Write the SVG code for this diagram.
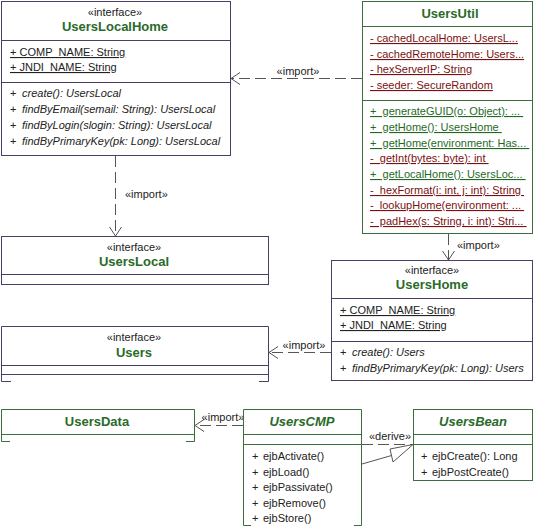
<svg xmlns="http://www.w3.org/2000/svg" width="534" height="527" viewBox="0 0 534 527">
<defs>
<marker id="open" markerUnits="userSpaceOnUse" markerWidth="20" markerHeight="20" viewBox="-12 -10 14 20" refX="0" refY="0" orient="auto">
<path d="M-9,-6 L0,0 L-9,6" fill="none" stroke="#555" stroke-width="1"/>
</marker>
<style>
.bp{fill:#fff;stroke:#4a3d66;stroke-width:1}
.bg{fill:#fff;stroke:#3c6e3c;stroke-width:1}
.lp{stroke:#4a3d66;stroke-width:1;fill:none}
.lg{stroke:#3c6e3c;stroke-width:1;fill:none}
text{font-family:"Liberation Sans",Arial,sans-serif;font-size:11px;fill:#222}
.st{text-anchor:middle}
.nm{font-size:13px;font-weight:bold;fill:#2a6a2a;text-anchor:middle}
.ab{font-style:italic}
.u{text-decoration:underline}
.r{fill:#7a1010}
.g{fill:#1f6a1f}
.pre{white-space:pre}
.c{stroke:#555;stroke-width:1;fill:none;stroke-dasharray:11,5}
.cs{stroke:#555;stroke-width:1;fill:none}
</style>
</defs>

<g id="connectors">
<line class="c" x1="362" y1="78.5" x2="231" y2="78.5" marker-end="url(#open)"/>
<text class="st" x="298" y="75">«import»</text>
<line class="c" x1="115.5" y1="156" x2="115.5" y2="236" marker-end="url(#open)"/>
<text x="125" y="198">«import»</text>
<line class="c" x1="448.5" y1="234" x2="448.5" y2="260" marker-end="url(#open)"/>
<text x="457" y="249">«import»</text>
<line class="c" x1="331" y1="352.5" x2="269" y2="352.5" marker-end="url(#open)"/>
<text class="st" x="304" y="349">«import»</text>
<line class="c" x1="243" y1="425.5" x2="195" y2="425.5" marker-end="url(#open)"/>
<text class="st" x="223" y="421">«import»</text>
<line class="c" x1="362" y1="444.5" x2="413" y2="444.5"/>
<text class="st" x="390" y="440">«derive»</text>
<line class="cs" x1="362" y1="464" x2="391.5" y2="455.5"/>
<path class="cs" d="M390,449 L413,444.5 L393,462 Z" fill="#fff"/>
</g>

<g id="UsersLocalHome">
<rect class="bp" x="1.5" y="1.5" width="229" height="154"/>
<line class="lp" x1="1.5" y1="40.5" x2="230.5" y2="40.5"/>
<line class="lp" x1="1.5" y1="82.5" x2="230.5" y2="82.5"/>
<text class="st" x="115" y="16">«interface»</text>
<text class="nm" x="115" y="31">UsersLocalHome</text>
<text class="u" x="10" y="56">+ COMP_NAME: String</text>
<text class="u" x="10" y="71">+ JNDI_NAME: String</text>
<text x="10" y="97">+</text><text class="ab" x="22" y="97">create(): UsersLocal</text>
<text x="10" y="113">+</text><text class="ab" x="22" y="113">findByEmail(semail: String): UsersLocal</text>
<text x="10" y="129">+</text><text class="ab" x="22" y="129">findByLogin(slogin: String): UsersLocal</text>
<text x="10" y="145">+</text><text class="ab" x="22" y="145">findByPrimaryKey(pk: Long): UsersLocal</text>
</g>

<g id="UsersUtil">
<rect class="bg" x="362.5" y="1.5" width="170" height="232"/>
<line class="lg" x1="362.5" y1="26.5" x2="532.5" y2="26.5"/>
<line class="lg" x1="362.5" y1="100.5" x2="532.5" y2="100.5"/>
<text class="nm" x="450" y="18">UsersUtil</text>
<text class="u r" x="370" y="42">- cachedLocalHome: UsersL... </text>
<text class="u r" x="370" y="58">- cachedRemoteHome: Users... </text>
<text class="u r" x="370" y="73">- hexServerIP: String </text>
<text class="u r" x="370" y="89">- seeder: SecureRandom </text>
<text class="u g pre" x="370" y="115">+  generateGUID(o: Object): ... </text>
<text class="u g pre" x="370" y="131">+  getHome(): UsersHome </text>
<text class="u g pre" x="370" y="147">+  getHome(environment: Has... </text>
<text class="u r pre" x="370" y="162">-  getInt(bytes: byte): int </text>
<text class="u g pre" x="370" y="178">+  getLocalHome(): UsersLoc... </text>
<text class="u r pre" x="370" y="194">-  hexFormat(i: int, j: int): String </text>
<text class="u r pre" x="370" y="209">-  lookupHome(environment: ... </text>
<text class="u r pre" x="370" y="225">-  padHex(s: String, i: int): Stri... </text>
</g>

<g id="UsersLocal">
<rect class="bp" x="1.5" y="236.5" width="267" height="48"/>
<line class="lp" x1="1.5" y1="274.5" x2="268.5" y2="274.5"/>
<text class="st" x="134" y="251">«interface»</text>
<text class="nm" x="134" y="266">UsersLocal</text>
</g>

<g id="UsersHome">
<rect class="bp" x="331.5" y="260.5" width="201" height="120"/>
<line class="lp" x1="331.5" y1="298.5" x2="532.5" y2="298.5"/>
<line class="lp" x1="331.5" y1="341.5" x2="532.5" y2="341.5"/>
<text class="st" x="432" y="274">«interface»</text>
<text class="nm" x="432" y="289">UsersHome</text>
<text class="u" x="340" y="314">+ COMP_NAME: String</text>
<text class="u" x="340" y="329">+ JNDI_NAME: String</text>
<text x="340" y="356">+</text><text class="ab" x="352" y="356">create(): Users</text>
<text x="340" y="372">+</text><text class="ab" x="352" y="372">findByPrimaryKey(pk: Long): Users</text>
</g>

<g id="Users">
<path class="lp" d="M1.5,381.5 V326.5 H268.5 V381.5"/>
<line class="lp" x1="1.5" y1="365.5" x2="268.5" y2="365.5"/>
<line class="lp" x1="1.5" y1="374.5" x2="268.5" y2="374.5"/>
<line class="lp" x1="1.5" y1="381.5" x2="11" y2="381.5"/>
<line class="lp" x1="259" y1="381.5" x2="268.5" y2="381.5"/>
<text class="st" x="134" y="341">«interface»</text>
<text class="nm" x="134" y="357">Users</text>
</g>

<g id="UsersData">
<path class="lg" d="M1.5,441.5 V409.5 H194.5 V441.5"/>
<line class="lg" x1="1.5" y1="434.5" x2="194.5" y2="434.5"/>
<line class="lg" x1="1.5" y1="441.5" x2="10" y2="441.5"/>
<line class="lg" x1="186" y1="441.5" x2="194.5" y2="441.5"/>
<text class="nm" x="97" y="426">UsersData</text>
</g>

<g id="UsersCMP">
<path class="lg" d="M243.5,525.5 V409.5 H361.5 V525.5"/>
<line class="lg" x1="243.5" y1="434.5" x2="361.5" y2="434.5"/>
<line class="lg" x1="243.5" y1="444.5" x2="361.5" y2="444.5"/>
<line class="lg" x1="243.5" y1="525.5" x2="251" y2="525.5"/>
<line class="lg" x1="354" y1="525.5" x2="361.5" y2="525.5"/>
<text class="nm ab" x="302" y="426">UsersCMP</text>
<text x="252" y="460">+</text><text x="263" y="460">ejbActivate()</text>
<text x="252" y="476">+</text><text x="263" y="476">ejbLoad()</text>
<text x="252" y="491">+</text><text x="263" y="491">ejbPassivate()</text>
<text x="252" y="507">+</text><text x="263" y="507">ejbRemove()</text>
<text x="252" y="522">+</text><text x="263" y="522">ejbStore()</text>
</g>

<g id="UsersBean">
<rect class="bg" x="413.5" y="409.5" width="119" height="71"/>
<line class="lg" x1="413.5" y1="434.5" x2="532.5" y2="434.5"/>
<line class="lg" x1="413.5" y1="444.5" x2="532.5" y2="444.5"/>
<text class="nm ab" x="473" y="426">UsersBean</text>
<text x="421" y="460">+</text><text x="432" y="460">ejbCreate(): Long</text>
<text x="421" y="476">+</text><text x="432" y="476">ejbPostCreate()</text>
</g>
</svg>
